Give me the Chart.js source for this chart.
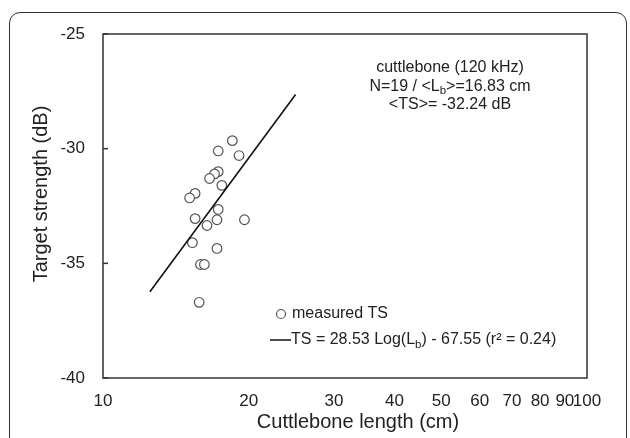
<!DOCTYPE html>
<html>
<head>
<meta charset="utf-8">
<script src="https://cdn.jsdelivr.net/npm/chart.js@4"></script>
<style>
  html, body { margin: 0; padding: 0; background: #fff; }
  #wrap { position: relative; width: 630px; height: 438px; overflow: hidden; }
  #frame { position: absolute; left: 9px; top: 12px; width: 616px; height: 470px;
           border: 1.5px solid #333; border-radius: 11px; }
  #myChart { position: absolute; left: 0; top: 0; }
</style>
</head>
<body>
<div id="wrap">
  <div id="frame"></div>
  <canvas id="myChart" width="630" height="438"></canvas>
</div>
<script>
// cuttlebone length (cm) and target strength (dB)
const lengths   = [18.5, 17.3, 19.1, 17.3, 17.0, 16.6, 17.6, 15.5, 15.1, 17.3,
                   15.5, 17.2, 19.6, 16.4, 15.3, 17.2, 15.9, 16.2, 15.8];
const strengths = [-29.65, -30.1, -30.3, -31.0, -31.1, -31.3, -31.6, -31.95, -32.15, -32.65,
                   -33.05, -33.1, -33.1, -33.35, -34.1, -34.35, -35.05, -35.05, -36.7];

// regression line end points
const fitLengths   = [12.5, 25];
const fitStrengths = [-36.24, -27.64];

const xTicks = [10, 20, 30, 40, 50, 60, 70, 80, 90, 100];
const yTicks = [-40, -35, -30, -25];

const xTitle = 'Cuttlebone length (cm)';
const yTitle = 'Target strength (dB)';
const infoLines = [
  [['cuttlebone (120 kHz)', false]],
  [['N=19 / <L', false], ['b', true], ['>=16.83 cm', false]],
  [['<TS>= -32.24 dB', false]]
];
const legendPoint = [['measured TS', false]];
const legendLine = [['TS = 28.53 Log(L', false], ['b', true], [') - 67.55 (r\u00b2 = 0.24)', false]];

const FONT = "'Liberation Sans', Arial, sans-serif";
Chart.defaults.font.family = FONT;
Chart.defaults.color = '#222';

// draws text pieces with subscripts
function drawPieces(ctx, pieces, x, y, size, align) {
  const widths = pieces.map(p => {
    ctx.font = (p[1] ? size * 0.72 : size) + 'px ' + FONT;
    return ctx.measureText(p[0]).width;
  });
  const total = widths.reduce((a, b) => a + b, 0);
  let cx = align === 'center' ? x - total / 2 : x;
  ctx.textAlign = 'left';
  ctx.textBaseline = 'middle';
  pieces.forEach((p, i) => {
    ctx.font = (p[1] ? size * 0.72 : size) + 'px ' + FONT;
    ctx.fillText(p[0], cx, p[1] ? y + size * 0.28 : y);
    cx += widths[i];
  });
}

const boxPlugin = {
  id: 'box',
  afterDraw(chart) {
    const { ctx, chartArea: a, scales: { y } } = chart;
    ctx.save();
    ctx.strokeStyle = '#333';
    ctx.lineWidth = 1.5;
    ctx.strokeRect(a.left, a.top, a.right - a.left, a.bottom - a.top);
    yTicks.forEach(v => {
      const py = y.getPixelForValue(v);
      ctx.beginPath();
      ctx.moveTo(a.left, py);
      ctx.lineTo(a.left + 5, py);
      ctx.stroke();
    });

    ctx.fillStyle = '#222';
    // axis titles
    ctx.font = '20px ' + FONT;
    ctx.textAlign = 'center';
    ctx.textBaseline = 'middle';
    ctx.fillText(xTitle, 358, 422);
    ctx.save();
    ctx.translate(41, 194);
    ctx.rotate(-Math.PI / 2);
    ctx.fillText(yTitle, 0, 0);
    ctx.restore();

    infoLines.forEach((line, i) => drawPieces(ctx, line, 450, 68 + i * 18.5, 16, 'center'));

    // legend
    ctx.strokeStyle = '#555';
    ctx.lineWidth = 1.2;
    ctx.beginPath();
    ctx.arc(281, 314, 4.5, 0, Math.PI * 2);
    ctx.stroke();
    drawPieces(ctx, legendPoint, 292, 314, 16, 'left');
    ctx.strokeStyle = '#111';
    ctx.lineWidth = 1.5;
    ctx.beginPath();
    ctx.moveTo(270, 340);
    ctx.lineTo(291, 340);
    ctx.stroke();
    drawPieces(ctx, legendLine, 291, 340, 16, 'left');
    ctx.restore();
  }
};

const ctx = document.getElementById('myChart');
const chart = new Chart(ctx, {
  type: 'scatter',
  data: {
    datasets: [{
      type: 'line',
      data: fitLengths.map((v, i) => ({ x: v, y: fitStrengths[i] })),
      borderColor: '#111',
      borderWidth: 1.6,
      pointRadius: 0,
      fill: false
    }, {
      data: lengths.map((v, i) => ({ x: v, y: strengths[i] })),
      pointStyle: 'circle',
      pointRadius: 4.8,
      backgroundColor: '#fff',
      borderColor: '#555',
      borderWidth: 1.2
    }]
  },
  options: {
    responsive: false,
    animation: false,
    layout: { padding: { left: 0, right: 43, top: 34, bottom: 0 } },
    plugins: { legend: { display: false }, tooltip: { enabled: false } },
    scales: {
      x: {
        type: 'logarithmic',
        min: 10,
        max: 100,
        afterBuildTicks: s => { s.ticks = xTicks.map(v => ({ value: v })); },
        afterFit: s => { s.height = 60; },
        grid: { display: false },
        border: { display: false },
        ticks: { font: { size: 17 }, padding: 5, maxRotation: 0, autoSkip: false,
                 callback: v => String(v) }
      },
      y: {
        min: -40,
        max: -25,
        afterBuildTicks: s => { s.ticks = yTicks.map(v => ({ value: v })); },
        afterFit: s => { s.width = 103; },
        grid: { display: false },
        border: { display: false },
        ticks: { font: { size: 17 }, padding: 10 }
      }
    }
  },
  plugins: [boxPlugin]
});
</script>
</body>
</html>
